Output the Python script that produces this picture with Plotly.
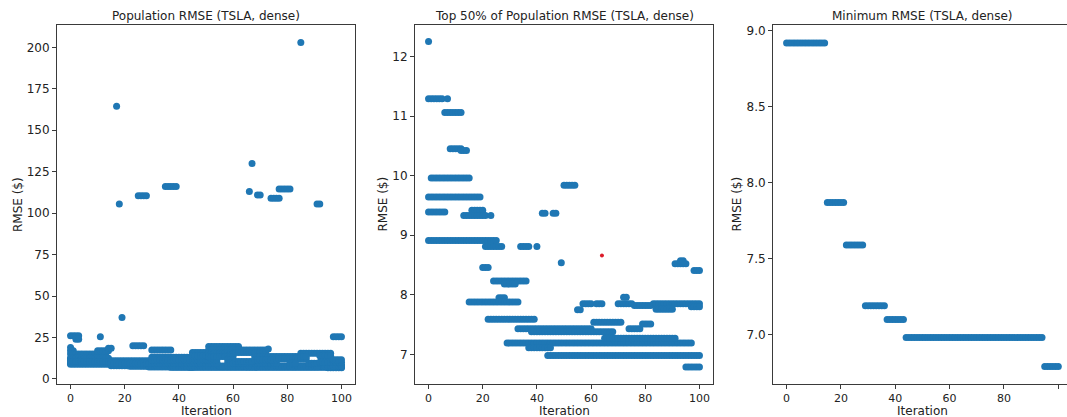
import plotly.graph_objects as go

W, H = 1067, 417
BLUE = "#1f77b4"
RED = "#dc1c2a"

# ---- data: horizontal runs of individuals, (rmse, first_iter, last_iter) ----
# Top half of the population per iteration
top_rmse = [12.25, 11.29, 11.29, 11.06, 10.45, 10.42, 9.96, 9.64, 9.39, 9.42, 9.33, 9.33,
            9.37, 9.37, 9.84, 8.91, 8.81, 8.81, 8.81, 8.54, 8.46, 8.23, 8.18, 7.95,
            7.88, 7.59, 7.43, 7.38, 7.19, 7.11, 6.98, 6.79, 8.52, 8.57, 8.41, 7.75,
            7.85, 7.85, 7.96, 7.85, 7.82, 7.85, 7.76, 7.80, 7.54, 7.43, 7.51, 7.27]
top_start = [0, 0, 7, 6, 8, 12, 1, 0, 0, 16, 13, 23,
             42, 46, 50, 0, 21, 34, 40, 49, 20, 24, 28, 26,
             15, 22, 33, 38, 29, 37, 44, 95, 91, 93, 98, 55,
             57, 62, 72, 70, 76, 83, 84, 97, 61, 74, 79, 65]
top_end = [0, 5, 7, 12, 12, 14, 15, 19, 6, 20, 21, 23,
           43, 47, 54, 25, 27, 37, 40, 49, 22, 36, 32, 28,
           33, 39, 60, 68, 97, 45, 100, 100, 95, 94, 100, 56,
           60, 64, 73, 75, 82, 100, 90, 100, 71, 78, 82, 91]

# Remaining (weaker) individuals of the population
rest_rmse = [19.0, 17.0, 15.0, 17.0, 18.5, 12.5, 10.5, 11.0, 9.5, 17.5, 13.0, 11.5,
             16.0, 14.0, 19.5, 17.5, 15.5, 13.5, 11.5, 9.5, 16.0, 10.5, 13.5, 11.5,
             18.0, 13.5, 12.0, 9.5, 15.5, 13.5, 9.5, 14.0, 10.0, 11.5,
             26.0, 24.0, 25.5, 37.0, 20.0, 25.5,
             203.0, 164.5, 130.0, 113.0, 105.5, 110.5, 116.0, 111.0, 109.0, 114.5, 105.5]
rest_start = [0, 0, 0, 10, 14, 0, 0, 15, 15, 30, 30, 30,
              45, 45, 51, 51, 51, 51, 58, 58, 61, 61, 68, 68,
              73, 77, 77, 81, 85, 85, 88, 92, 92, 97,
              0, 2, 11, 19, 23, 97,
              85, 17, 67, 66, 18, 25, 35, 69, 74, 77, 91]
rest_end = [0, 1, 13, 14, 15, 14, 14, 29, 54, 37, 44, 54,
            50, 54, 62, 72, 60, 60, 60, 76, 72, 67, 76, 76,
            73, 84, 87, 83, 96, 87, 91, 96, 100, 100,
            3, 3, 11, 19, 27, 100,
            85, 17, 67, 66, 18, 28, 39, 70, 77, 81, 92]

# Single highlighted individual in the top half
red_iter = [64]
red_rmse = [8.66]

# Best individual per iteration
min_rmse = [8.92, 7.87, 7.59, 7.19, 7.10, 6.98, 6.79]
min_start = [0, 15, 22, 29, 37, 44, 95]
min_end = [14, 21, 28, 36, 43, 94, 100]

x_ticks = [0, 20, 40, 60, 80, 100]
y1_ticks = [0, 25, 50, 75, 100, 125, 150, 175, 200]
y2_ticks = [7, 8, 9, 10, 11, 12]
y3_ticks = [7.0, 7.5, 8.0, 8.5, 9.0]


def expand(vals, starts, ends):
    xs, ys = [], []
    for v, a, b in zip(vals, starts, ends):
        for it in range(a, b + 1):
            xs.append(it)
            ys.append(v)
    return xs, ys


def px(x):
    return x / W


def py(y):
    return 1 - y / H


top_x, top_y = expand(top_rmse, top_start, top_end)
rest_x, rest_y = expand(rest_rmse, rest_start, rest_end)
min_x, min_y = expand(min_rmse, min_start, min_end)

fig = go.Figure()
mk = dict(color=BLUE, size=7, line=dict(width=0))
fig.add_trace(go.Scatter(x=top_x + rest_x, y=top_y + rest_y, mode="markers",
                         marker=mk, xaxis="x", yaxis="y", showlegend=False))
fig.add_trace(go.Scatter(x=top_x, y=top_y, mode="markers",
                         marker=mk, xaxis="x2", yaxis="y2", showlegend=False))
fig.add_trace(go.Scatter(x=red_iter, y=red_rmse, mode="markers",
                         marker=dict(color=RED, size=4, line=dict(width=0)),
                         xaxis="x2", yaxis="y2", showlegend=False))
fig.add_trace(go.Scatter(x=min_x, y=min_y, mode="markers",
                         marker=mk, xaxis="x3", yaxis="y3", showlegend=False))

# panel frames in pixels: (left, right)
frames = [(57, 355), (415, 713), (773, 1067)]
top_px, bot_px = 24, 386
ydom = [py(bot_px), py(top_px)]

axis_common = dict(showgrid=False, zeroline=False, showline=True, linecolor="#3a3a3a",
                   linewidth=1, ticks="outside", ticklen=4, tickcolor="#3a3a3a",
                   tickfont=dict(family="DejaVu Sans", size=11, color="#222"))

xranges = [[-5, 105], [-5, 105], [-5, 103.2]]
yranges = [[-3.2, 213.6], [6.5, 12.53], [6.673, 9.04]]
yticks = [y1_ticks, y2_ticks, y3_ticks]
yfmt = ["d", "d", ".1f"]

layout = {}
for i, (l, r) in enumerate(frames):
    s = "" if i == 0 else str(i + 1)
    layout["xaxis" + s] = dict(axis_common, domain=[px(l), px(r)], range=xranges[i],
                               tickvals=x_ticks, mirror=True,
                               anchor="y" + s)
    layout["yaxis" + s] = dict(axis_common, domain=ydom, range=yranges[i],
                               tickvals=yticks[i], tickformat=yfmt[i],
                               tickfont=dict(family="DejaVu Sans", size=12, color="#222"),
                               mirror=(i < 2), anchor="x" + s)

titles = ["Population RMSE (TSLA, dense)",
          "Top 50% of Population RMSE (TSLA, dense)",
          "Minimum RMSE (TSLA, dense)"]
title_cx = [206, 564, 922]
ylab_x = [17.5, 383, 737]

ann = []
tf = dict(family="DejaVu Sans", size=12, color="#222")
for i in range(3):
    ann.append(dict(text=titles[i], x=px(title_cx[i]), y=py(15), xref="paper", yref="paper",
                    showarrow=False, xanchor="center", yanchor="middle", font=tf))
    ann.append(dict(text="Iteration", x=px(title_cx[i]), y=py(412.5), xref="paper",
                    yref="paper", showarrow=False, xanchor="center", yanchor="middle",
                    font=tf))
    ann.append(dict(text="RMSE ($)", x=px(ylab_x[i]), y=py(205), xref="paper",
                    yref="paper", showarrow=False, xanchor="center", yanchor="middle",
                    textangle=-90, font=tf))

fig.update_layout(width=W, height=H, margin=dict(l=0, r=0, t=0, b=0),
                  paper_bgcolor="white", plot_bgcolor="white",
                  annotations=ann, **layout)

fig.write_html("out.html")
